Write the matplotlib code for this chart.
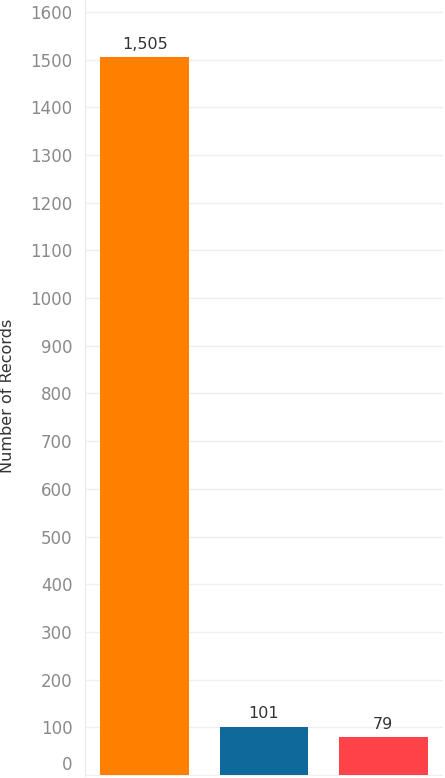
import matplotlib.pyplot as plt
import matplotlib.transforms as mtransforms

categories = ['A', 'B', 'C']
records = [1505, 101, 79]
labels = ['1,505', '101', '79']
colors = ['#FF7F00', '#10699B', '#FF4248']
yticks = list(range(0, 1700, 100))

fig = plt.figure(figsize=(4.45, 7.78), dpi=100)
ax = fig.add_axes([85/445, 2/778, 358/445, 776/778])

x = range(len(categories))
bars = ax.bar(x, records, width=0.745, color=colors, zorder=2)
for b, lab in zip(bars, labels):
    ax.text(b.get_x() + b.get_width()/2, b.get_height() + 12, lab,
            ha='center', va='bottom', fontsize=11.5, color='#333333')

ax.set_xlim(-0.5, 2.5)
ax.set_ylim(-2, 1625)
ax.set_yticks(yticks)
ax.set_xticks([])
ax.tick_params(axis='y', length=0, labelsize=12, labelcolor='#8a8a8a', pad=9)
ax.grid(axis='y', color='#efefef', linewidth=1, zorder=0)
for s in ['top', 'right', 'bottom']:
    ax.spines[s].set_visible(False)
ax.spines['left'].set_color('#e8e8e8')
ax.set_ylabel('Number of Records', fontsize=11.5, color='#333333',
              fontweight='medium')
ax.yaxis.set_label_coords(-70/358, 0.49)

# lift the bottom "0" label so it stays inside the picture
zero = ax.get_yticklabels()[0]
zero.set_transform(zero.get_transform() +
                   mtransforms.ScaledTranslation(0, 12/100, fig.dpi_scale_trans))

fig.savefig('out.png', dpi=100)
